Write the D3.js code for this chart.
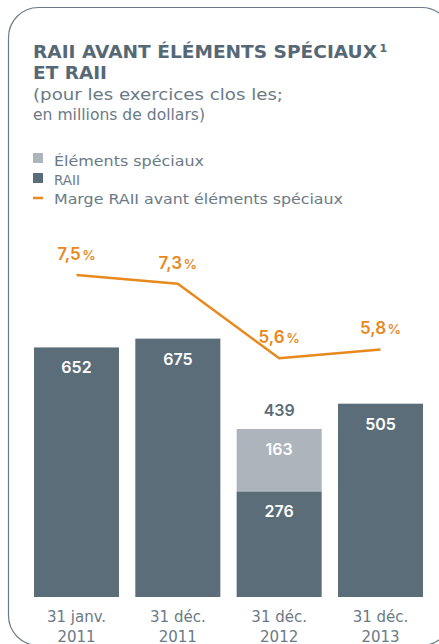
<!DOCTYPE html>
<html>
<head>
<meta charset="utf-8">
<script src="https://cdn.jsdelivr.net/npm/d3@7"></script>
<style>
  body { margin: 0; background: #fff; }
  svg { display: block; font-family: "DejaVu Sans", sans-serif; }
  .num { font-family: Inter, sans-serif; }
</style>
</head>
<body>
<svg id="chart"></svg>
<script>
// Chart data
const dateLines = ['31 janv.', '31 déc.', '31 déc.', '31 déc.'];
const years = ['2011', '2011', '2012', '2013'];
const raii = [652, 675, 276, 505];
const special = [0, 0, 163, 0];
const margins = [7.5, 7.3, 5.6, 5.8];
const legendLabels = ['Éléments spéciaux', 'RAII', 'Marge RAII avant éléments spéciaux'];
const subtitleLines = ['(pour les exercices clos les;', 'en millions de dollars)'];

const dark = '#5c6d7a';
const light = '#adb4bb';
const orange = '#e8891e';
const textGray = '#6b7a86';

const W = 439, H = 644;
const svg = d3.select('#chart').attr('width', W).attr('height', H);

// Frame
svg.append('rect')
  .attr('x', 8.5).attr('y', 7.5)
  .attr('width', 443).attr('height', 638)
  .attr('rx', 30).attr('ry', 30)
  .attr('fill', 'none')
  .attr('stroke', '#6a7a87')
  .attr('stroke-width', 1.2);

// Title (the original face is wider, so stretch to its width)
svg.append('text')
  .attr('x', 33).attr('y', 58)
  .attr('fill', '#566875')
  .attr('font-size', 17)
  .attr('font-weight', 600)
  .attr('textLength', 344)
  .attr('lengthAdjust', 'spacingAndGlyphs')
  .text('RAII AVANT ÉLÉMENTS SPÉCIAUX');
svg.append('text')
  .attr('x', 379.5).attr('y', 51.5)
  .attr('fill', '#566875')
  .attr('font-size', 11)
  .attr('font-weight', 600)
  .text('1');
svg.append('text')
  .attr('x', 33).attr('y', 79)
  .attr('fill', '#566875')
  .attr('font-size', 17)
  .attr('font-weight', 600)
  .attr('textLength', 74)
  .attr('lengthAdjust', 'spacingAndGlyphs')
  .text('ET RAII');

// Subtitle
const subWidths = [250, 172];
svg.selectAll('.sub')
  .data(subtitleLines)
  .enter().append('text')
  .attr('class', 'sub')
  .attr('x', 33)
  .attr('y', (d, i) => 100 + i * 20)
  .attr('fill', textGray)
  .attr('font-size', 15)
  .attr('textLength', (d, i) => subWidths[i])
  .attr('lengthAdjust', 'spacingAndGlyphs')
  .text(d => d);

// Legend
const legWidths = [150, 26, 289];
const legend = svg.append('g');
legend.append('rect').attr('x', 33).attr('y', 153).attr('width', 10).attr('height', 10).attr('fill', light);
legend.append('rect').attr('x', 33).attr('y', 173).attr('width', 10).attr('height', 10).attr('fill', dark);
legend.append('line').attr('x1', 33).attr('x2', 43).attr('y1', 198).attr('y2', 198)
  .attr('stroke', orange).attr('stroke-width', 2.5);
legend.selectAll('.leg')
  .data(legendLabels)
  .enter().append('text')
  .attr('class', 'leg')
  .attr('x', 54)
  .attr('y', (d, i) => 165.5 + i * 19)
  .attr('fill', textGray)
  .attr('font-size', 14.5)
  .attr('textLength', (d, i) => legWidths[i])
  .attr('lengthAdjust', 'spacingAndGlyphs')
  .text(d => d);

// Scales
const idx = d3.range(raii.length);
const xScale = d3.scaleBand()
  .domain(idx)
  .range([34, 423])
  .paddingInner(0.161)
  .paddingOuter(0);

const yScale = d3.scaleLinear()
  .domain([0, 700])
  .range([597, 597 - 0.3828 * 700]);

const mScale = d3.scaleLinear()
  .domain([5, 8])
  .range([384.5, 253.2]);

// Bars: RAII
svg.selectAll('.bar')
  .data(idx)
  .enter().append('rect')
  .attr('class', 'bar')
  .attr('x', i => xScale(i))
  .attr('y', i => yScale(raii[i]))
  .attr('width', xScale.bandwidth())
  .attr('height', i => yScale(0) - yScale(raii[i]))
  .attr('fill', dark);

// Bars: special items stacked on top
svg.selectAll('.bar-special')
  .data(idx.filter(i => special[i] > 0))
  .enter().append('rect')
  .attr('class', 'bar-special')
  .attr('x', i => xScale(i))
  .attr('y', i => yScale(raii[i] + special[i]))
  .attr('width', xScale.bandwidth())
  .attr('height', i => yScale(raii[i]) - yScale(raii[i] + special[i]))
  .attr('fill', light);

const cx = i => xScale(i) + xScale.bandwidth() / 2;

// Value labels inside bars
svg.selectAll('.val')
  .data(idx)
  .enter().append('text')
  .attr('class', 'num')
  .attr('x', cx)
  .attr('y', i => yScale(raii[i]) + 26)
  .attr('text-anchor', 'middle')
  .attr('fill', '#fff')
  .attr('font-size', 16)
  .attr('font-weight', 600)
  .text(i => raii[i]);

svg.selectAll('.val-special')
  .data(idx.filter(i => special[i] > 0))
  .enter().append('text')
  .attr('class', 'num')
  .attr('x', cx)
  .attr('y', i => yScale(raii[i] + special[i]) + 26)
  .attr('text-anchor', 'middle')
  .attr('fill', '#fff')
  .attr('font-size', 16)
  .attr('font-weight', 600)
  .text(i => special[i]);

// Total above stacked bar
svg.selectAll('.val-total')
  .data(idx.filter(i => special[i] > 0))
  .enter().append('text')
  .attr('class', 'num')
  .attr('x', cx)
  .attr('y', i => yScale(raii[i] + special[i]) - 13)
  .attr('text-anchor', 'middle')
  .attr('fill', dark)
  .attr('font-size', 16)
  .attr('font-weight', 600)
  .text(i => raii[i] + special[i]);

// Margin line
const line = d3.line()
  .x(i => cx(i))
  .y(i => mScale(margins[i]));

svg.append('path')
  .datum(idx)
  .attr('d', line)
  .attr('fill', 'none')
  .attr('stroke', orange)
  .attr('stroke-width', 2.5)
  .attr('stroke-linejoin', 'round');

const pct = svg.selectAll('.pct')
  .data(idx)
  .enter().append('text')
  .attr('class', 'pct num')
  .attr('x', cx)
  .attr('y', i => mScale(margins[i]) - 15)
  .attr('text-anchor', 'middle')
  .attr('fill', orange)
  .attr('font-size', 17)
  .attr('font-weight', 600);
pct.append('tspan').text(i => margins[i].toFixed(1).replace('.', ','));
pct.append('tspan').attr('font-size', 13.5).attr('dx', 1.5).text('%');

// X axis labels
const xAxis = d3.axisBottom(xScale).tickSize(0).tickFormat('');
const gx = svg.append('g')
  .attr('transform', 'translate(0, 597)')
  .call(xAxis);
gx.select('.domain').remove();

gx.selectAll('.tick').each(function (i) {
  const t = d3.select(this).append('text')
    .attr('fill', textGray)
    .attr('font-family', '"DejaVu Sans", sans-serif')
    .attr('font-size', 15)
    .attr('text-anchor', 'middle');
  t.append('tspan').attr('x', 0).attr('y', 24.5).text(dateLines[i]);
  t.append('tspan').attr('x', 0).attr('y', 44.5).text(years[i]);
});
</script>
</body>
</html>
